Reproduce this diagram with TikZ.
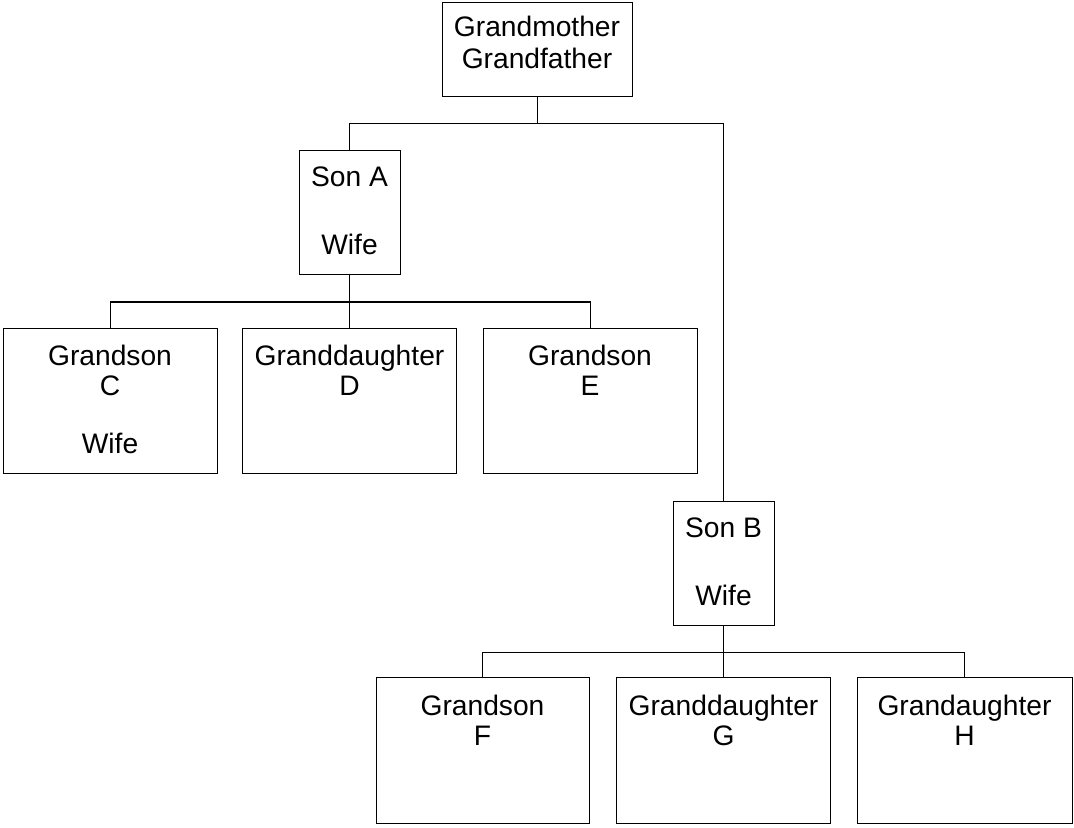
\documentclass[tikz,border=0pt]{standalone}
\usepackage{fontspec}
\setmainfont{Liberation Sans}
\begin{document}
\begin{tikzpicture}[x=0.5pt,y=-0.5pt,
  box/.style={draw=black, line width=0.5pt, rectangle, inner sep=0pt},
  lbl/.style={anchor=base, inner sep=0pt, font=\fontsize{14.1pt}{15pt}\selectfont},
  conn/.style={draw=black, line width=0.5pt}]
\useasboundingbox (0,0) rectangle (1074,828);
% boxes
\node[box, minimum width=95pt, minimum height=47pt] (gp) at (537,50) {};
\node[box, minimum width=50.5pt, minimum height=62pt] (sa) at (349.5,213) {};
\node[box, minimum width=107pt, minimum height=72.5pt] (c) at (110,400.5) {};
\node[box, minimum width=107pt, minimum height=72.5pt] (d) at (349.5,400.5) {};
\node[box, minimum width=107pt, minimum height=72.5pt] (e) at (590,400.5) {};
\node[box, minimum width=50.5pt, minimum height=62pt] (sb) at (723.5,563) {};
\node[box, minimum width=106.5pt, minimum height=73pt] (f) at (482.5,750) {};
\node[box, minimum width=107pt, minimum height=73pt] (g) at (723.5,750) {};
\node[box, minimum width=107.5pt, minimum height=73pt] (h) at (964.5,750) {};
% labels
\node[lbl] (t1) at (537,37) {Grandmother};
\node[lbl] (t2) at (537,69) {Grandfather};
\node[lbl] (t3) at (349.5,187) {Son A};
\node[lbl] (t4) at (349.5,255) {Wife};
\node[lbl] (t5) at (110,365) {Grandson};
\node[lbl] (t6) at (110,395) {C};
\node[lbl] (t7) at (110,453) {Wife};
\node[lbl] (t8) at (349.5,365) {Granddaughter};
\node[lbl] (t9) at (349.5,395) {D};
\node[lbl] (t10) at (590,365) {Grandson};
\node[lbl] (t11) at (590,395) {E};
\node[lbl] (t12) at (723.5,537) {Son B};
\node[lbl] (t13) at (723.5,605) {Wife};
\node[lbl] (t14) at (482.5,715) {Grandson};
\node[lbl] (t15) at (482.5,745) {F};
\node[lbl] (t16) at (723.5,715) {Granddaughter};
\node[lbl] (t17) at (723.5,745) {G};
\node[lbl] (t18) at (964.5,715) {Grandaughter};
\node[lbl] (t19) at (964.5,745) {H};
% connectors
\coordinate (j1) at (537,124);
\coordinate (j2) at (349.5,302);
\coordinate (j3) at (723.5,652);
\draw[conn] (gp.south) -- (j1);
\draw[conn] (j1) -| (sa.north);
\draw[conn] (j1) -| (sb.north);
\draw[conn] (sa.south) -- (j2);
\draw[conn] (j2) -| (c.north);
\draw[conn] (j2) -- (d.north);
\draw[conn] (j2) -| (e.north);
\draw[conn] (sb.south) -- (j3);
\draw[conn] (j3) -| (f.north);
\draw[conn] (j3) -- (g.north);
\draw[conn] (j3) -| (h.north);
\end{tikzpicture}
\end{document}
